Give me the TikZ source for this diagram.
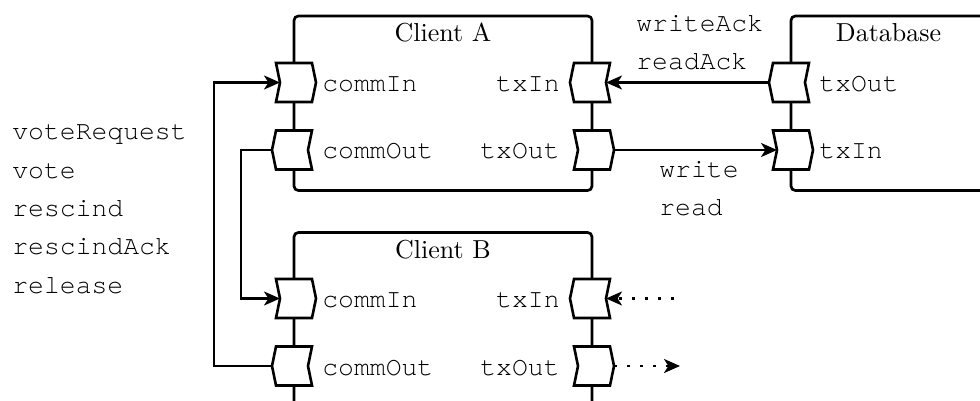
\documentclass[tikz,border=0pt]{standalone}
\usepackage{fontspec}
\setmonofont{texgyrecursor-regular.otf}
\newfontfamily\titlefont{lmroman10-regular.otf}
\usetikzlibrary{arrows.meta,calc}

% port outlines: body rectangle plus a chevron on both short sides
\newcommand\portRight[1]{%
  \fill[white] (#1.north west) -- ($(#1.west)+(4,0)$) -- (#1.south west) -- (#1.south east)
    -- ($(#1.east)+(4,0)$) -- (#1.north east) -- cycle;
  \draw[portline] (#1.north west) -- ($(#1.west)+(4,0)$) -- (#1.south west) -- (#1.south east)
    -- ($(#1.east)+(4,0)$) -- (#1.north east) -- cycle;}
\newcommand\portLeft[1]{%
  \fill[white] (#1.north west) -- ($(#1.west)-(4,0)$) -- (#1.south west) -- (#1.south east)
    -- ($(#1.east)-(4,0)$) -- (#1.north east) -- cycle;
  \draw[portline] (#1.north west) -- ($(#1.west)-(4,0)$) -- (#1.south west) -- (#1.south east)
    -- ($(#1.east)-(4,0)$) -- (#1.north east) -- cycle;}

\tikzset{
  boxline/.style={line width=1.35pt, rounded corners=2.2pt},
  portline/.style={line width=1.3pt, line join=miter},
  port/.style={rectangle, minimum width=18pt, minimum height=19.5pt, inner sep=0pt, outer sep=0pt},
  wire/.style={line width=1.2pt, -{Stealth[length=8pt,width=7pt,inset=2.2pt]}},
  dotwire/.style={wire, dash pattern=on 1.5pt off 5pt},
  title/.style={font=\titlefont\fontsize{13}{15}\selectfont, inner sep=0pt, anchor=base},
  msg/.style={font=\ttfamily\fontsize{13.2}{16}\selectfont, inner sep=0pt, anchor=base west},
  plabW/.style={msg, anchor=base west},
  plabE/.style={msg, anchor=base east},
}

\begin{document}
\begin{tikzpicture}[x=0.5pt, y=-0.5pt]
  \useasboundingbox (0,0) rectangle (980,401);
  \clip (0,0) rectangle (980,401);

  % component outlines
  \draw[boxline] (294,16) rectangle (592,190.5);
  \draw[boxline] (294,410) -- (294,232.5) -- (592,232.5) -- (592,410);
  \draw[boxline] (990,16) -- (791,16) -- (791,190.5) -- (990,190.5);

  % titles
  \node[title] (tA) at (443,42) {Client A};
  \node[title] (tB) at (443,258.5) {Client B};
  \node[title] (tD) at (888.5,42) {Database};

  % ports
  \node[port] (AcI) at (294,82.5) {};
  \node[port] (AcO) at (294,150) {};
  \node[port] (AtI) at (592,82.5) {};
  \node[port] (AtO) at (592,150) {};
  \node[port] (DtO) at (791,82.5) {};
  \node[port] (DtI) at (791,150) {};
  \node[port] (BcI) at (294,298.5) {};
  \node[port] (BcO) at (294,366) {};
  \node[port] (BtI) at (592,298.5) {};
  \node[port] (BtO) at (592,366) {};

  \portRight{AcI} \portLeft{AcO} \portLeft{AtI} \portRight{AtO}
  \portLeft{DtO} \portRight{DtI}
  \portRight{BcI} \portLeft{BcO} \portLeft{BtI} \portRight{BtO}

  % port labels
  \node[plabW] (lAcI) at (322,91.5) {commIn};
  \node[plabW] (lAcO) at (322,159) {commOut};
  \node[plabE] (lAtI) at (560,91.5) {txIn};
  \node[plabE] (lAtO) at (560,159) {txOut};
  \node[plabW] (lDtO) at (819,91.5) {txOut};
  \node[plabW] (lDtI) at (819,159) {txIn};
  \node[plabW] (lBcI) at (322,307.5) {commIn};
  \node[plabW] (lBcO) at (322,375) {commOut};
  \node[plabE] (lBtI) at (560,307.5) {txIn};
  \node[plabE] (lBtO) at (560,375) {txOut};

  % message names
  \node[msg] (m1) at (12,140) {voteRequest};
  \node[msg] (m2) at (12,178.3) {vote};
  \node[msg] (m3) at (12,216.6) {rescind};
  \node[msg] (m4) at (12,254.9) {rescindAck};
  \node[msg] (m5) at (12,293.2) {release};
  \node[msg] (m6) at (636,31.7) {writeAck};
  \node[msg] (m7) at (636,70) {readAck};
  \node[msg] (m8) at (659,177) {write};
  \node[msg] (m9) at (659,215.5) {read};

  % connectors
  \draw[wire] ($(DtO.west)-(4,0)$) -- ($(AtI.east)-(4,0)$);
  \draw[wire] ($(AtO.east)+(4,0)$) -- ($(DtI.west)+(4,0)$);
  \draw[wire] ($(AcO.west)-(4,0)$) -- ++(-31,0) |- ($(BcI.west)+(4,0)$);
  \draw[wire] ($(BcO.west)-(4,0)$) -- ++(-58,0) |- ($(AcI.west)+(4,0)$);

  \coordinate (inB) at (674,298.5);
  \coordinate (outB) at (680,366);
  \draw[dotwire] (inB) -- ($(BtI.east)-(4,0)$);
  \draw[dotwire] ($(BtO.east)+(4,0)$) -- (outB);
\end{tikzpicture}
\end{document}
